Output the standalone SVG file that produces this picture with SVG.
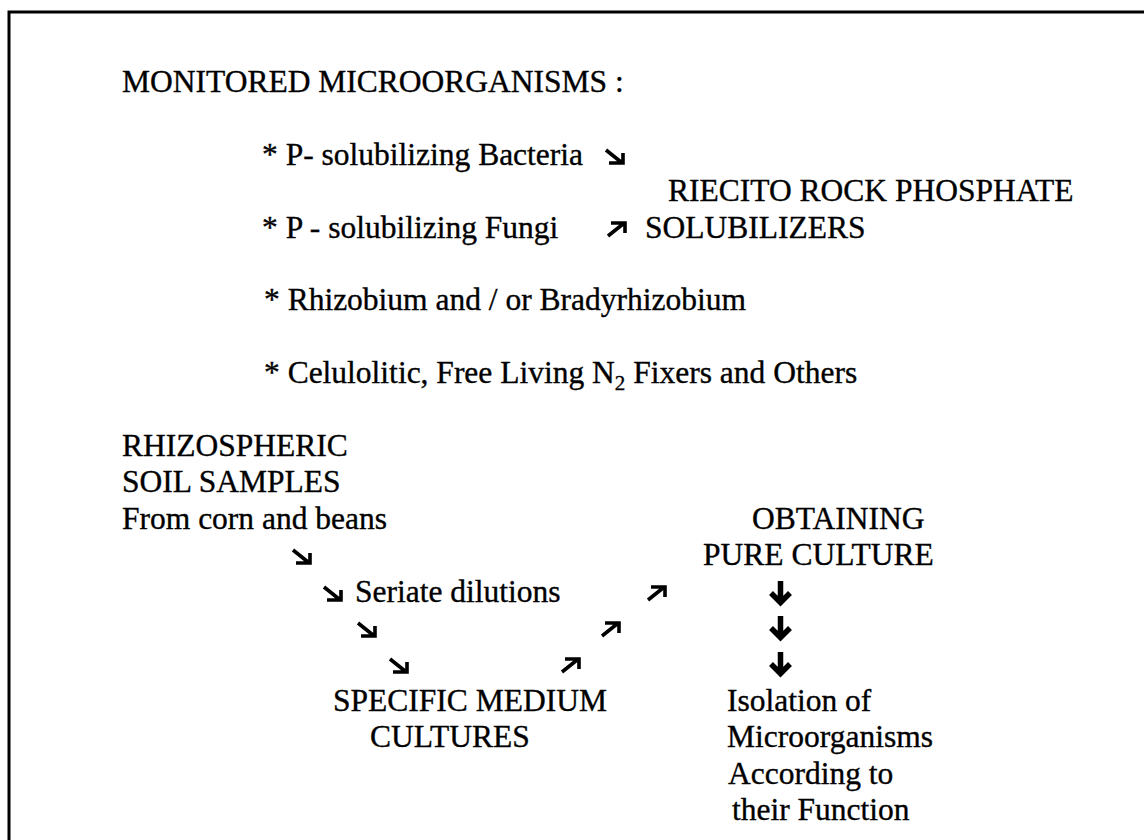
<svg xmlns="http://www.w3.org/2000/svg" xmlns:xlink="http://www.w3.org/1999/xlink" width="1144" height="840" viewBox="0 0 1144 840">
<style>
  text { font-family: "Liberation Serif", "Times New Roman", serif; font-size: 31.5px; fill: #000; stroke: #000; stroke-width: 0.35px; }
  .frame { fill: none; stroke: #000; stroke-width: 3; }
  .arr { fill: none; stroke: #000; stroke-width: 3.6; stroke-linecap: butt; stroke-linejoin: miter; }
  .bold { fill: none; stroke: #000; stroke-width: 5.5; stroke-linecap: butt; stroke-linejoin: miter; }
</style>
<defs>
  <path id="se" class="arr" d="M1,1 L16,13 M4,14 H18 V4"/>
  <path id="ne" class="arr" d="M1,14 L16,2 M4,1 H18 V11"/>
  <path id="down" class="bold" d="M12.5,0 V22 M3,12 L12.5,21.5 L22,12"/>
</defs>
<rect width="1144" height="840" fill="#fff"/>
<path class="frame" d="M9,840 V12 H1144"/>

<g id="title"><text x="122" y="92">MONITORED MICROORGANISMS :</text></g>
<g id="bacteria"><text x="262" y="164.8">* P- solubilizing Bacteria</text></g>
<g id="riecito">
  <text x="668" y="201.2">RIECITO ROCK PHOSPHATE</text>
  <text x="645" y="237.6">SOLUBILIZERS</text>
</g>
<g id="fungi"><text x="262" y="237.6">* P - solubilizing Fungi</text></g>
<g id="rhizobium"><text x="264" y="310.4">* Rhizobium and / or Bradyrhizobium</text></g>
<g id="celulolitic"><text x="264" y="383.2">* Celulolitic, Free Living N<tspan font-size="21" dy="7">2</tspan><tspan dy="-7"> Fixers and Others</tspan></text></g>
<g id="soil-samples">
  <text x="122" y="456">RHIZOSPHERIC</text>
  <text x="122" y="492.4">SOIL SAMPLES</text>
  <text x="122" y="528.8">From corn and beans</text>
</g>
<g id="seriate"><text x="355" y="601.6">Seriate dilutions</text></g>
<g id="specific-medium">
  <text x="333" y="710.8">SPECIFIC MEDIUM</text>
  <text x="370" y="747.2">CULTURES</text>
</g>
<g id="obtaining">
  <text x="752" y="528.8">OBTAINING</text>
  <text x="703" y="565.2">PURE CULTURE</text>
</g>
<g id="isolation">
  <text x="727" y="710.8">Isolation of</text>
  <text x="727" y="747.2">Microorganisms</text>
  <text x="728" y="783.6">According to</text>
  <text x="732" y="820">their Function</text>
</g>

<g id="connectors">
  <use xlink:href="#se" x="605" y="149"/>
  <use xlink:href="#ne" x="607" y="222"/>
  <use xlink:href="#se" x="292" y="549"/>
  <use xlink:href="#se" x="323" y="586"/>
  <use xlink:href="#ne" x="647" y="586"/>
  <use xlink:href="#se" x="357" y="622"/>
  <use xlink:href="#ne" x="601" y="622"/>
  <use xlink:href="#se" x="389" y="658"/>
  <use xlink:href="#ne" x="561" y="658"/>
  <use xlink:href="#down" x="768" y="581"/>
  <use xlink:href="#down" x="768" y="616"/>
  <use xlink:href="#down" x="768" y="652"/>
</g>
</svg>
